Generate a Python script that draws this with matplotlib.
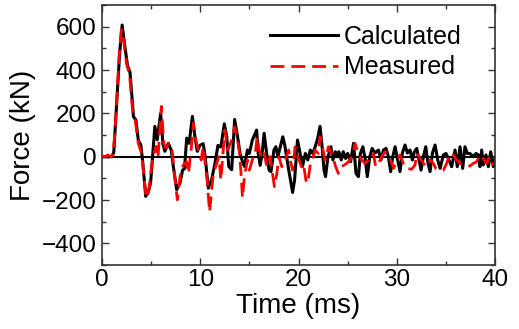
import matplotlib
matplotlib.use("Agg")
import matplotlib.pyplot as plt
from matplotlib.ticker import MultipleLocator

plt.rcParams['font.family'] = ['Liberation Sans', 'DejaVu Sans']

# Calculated (time ms, force kN)
calc_t = [0, 0.5, 1.0, 1.2, 1.5, 1.8, 2.05, 2.3, 2.6, 2.85, 3.1, 3.2, 3.45, 3.7, 3.95,
          4.15, 4.45, 4.7, 4.95, 5.2, 5.38, 5.62, 5.97, 6.2, 6.4, 6.75, 7.05, 7.26, 7.6,
          7.95, 8.2, 8.4, 8.62, 8.87, 9.2, 9.46, 9.7, 9.96, 10.3, 10.5, 10.82, 11.15, 11.5,
          11.8, 12.1, 12.45, 12.7, 12.9, 13.2, 13.5, 13.8, 14.05, 14.3, 14.5, 14.8, 15.0,
          15.3, 15.74, 15.9, 16.1, 16.3, 16.5, 16.8, 17.0, 17.2, 17.5, 17.7, 17.9, 18.15,
          18.4, 18.6, 19.0, 19.4, 19.6, 19.9, 20.1, 20.4, 20.7, 20.95, 21.2, 21.45, 21.7,
          21.95, 22.19, 22.4, 22.6, 22.75, 23.0, 23.3, 23.5, 23.75, 24.0, 24.1, 24.35, 24.55,
          24.8, 25.0, 25.3, 25.6, 25.85, 26.1, 26.3, 26.55, 26.8, 27.0, 27.25, 27.5, 27.79,
          28.13, 28.4, 28.64, 28.91, 29.15, 29.38, 29.59, 29.83, 30.1, 30.33, 30.57, 30.84,
          31.08, 31.35, 31.59, 31.79, 32.03, 32.27, 32.47, 32.71, 32.95, 33.15, 33.39, 33.63,
          33.9, 34.17, 34.41, 34.74, 35.01, 35.25, 35.59, 35.93, 36.16, 36.44, 36.71, 36.94,
          37.18, 37.45, 37.79, 38.06, 38.3, 38.47, 38.64, 38.81, 39.08, 39.32, 39.56, 39.83, 40.0]
calc_f = [0, 0, 0, 20, 250, 480, 608, 520, 420, 390, 250, 185, 170, 75, 55,
          -25, -183, -165, -120, 30, 140, 78, 200, 60, 25, 62, 30, -45, -152,
          -120, -62, -55, 86, 62, 186, 92, 25, 52, 60, 0, -145, -108, -30,
          52, 45, 152, 92, -45, -60, 172, 92, 15, -23, -45, 31, 15,
          77, 123, 15, -40, 15, 108, 0, -62, -69, 31, 46, 0, 46,
          92, 54, -60, -165, -108, 77, 31, -46, 15, -15, 31, 15, 46,
          85, 140, 46, -62, -92, 0, 46, -15, 23, 0, 23, -15, 23,
          -8, 15, -23, 62, -77, -92, 15, 46, -15, -92, 0, 38, 17,
          31, -15, 31, 38, 0, -69, 0, 46, -15, -69, 17, 54,
          17, 31, -15, 23, 38, -15, -62, 0, 46, -23, -69, 17,
          54, -15, -54, 8, 15, -8, -46, 31, -46, 46, -54, 46,
          15, 15, 0, 15, 8, -46, 31, -38, 8, -46, 23, -46, -15]

# Measured (time ms, force kN)
meas_t = [0, 0.3, 0.6, 0.9, 1.1, 1.3, 1.5, 1.75, 1.97, 2.2, 2.5, 2.8, 3.1, 3.4, 3.7, 4.0,
          4.2, 4.5, 4.75, 5.0, 5.2, 5.5, 5.7, 6.04, 6.3, 6.5, 6.8, 7.1, 7.4, 7.67, 7.95,
          8.25, 8.6, 8.8, 9.1, 9.3, 9.55, 9.9, 10.1, 10.3, 10.7, 10.95, 11.3, 11.6, 11.9,
          12.1, 12.5, 12.8, 13.2, 13.5, 13.75, 14.0, 14.15, 14.3, 14.5, 14.8, 15.0, 15.3,
          15.6, 15.8, 16.0, 16.2, 16.5, 16.7, 16.85, 17.1, 17.3, 17.55, 17.8, 18.0, 18.3,
          18.65, 19.0, 19.2, 19.4, 19.65, 19.95, 20.3, 20.5, 20.75, 20.93, 21.27, 21.51,
          21.68, 22.02, 22.19, 22.36, 22.53, 22.7, 22.87, 23.04, 23.2, 23.54, 23.78, 24.05,
          24.39, 24.66, 24.9, 25.24, 25.58, 25.75, 26.09, 26.43, 26.77, 27.11, 27.38, 27.62,
          27.85, 28.13, 28.47, 28.81, 29.15, 29.49, 29.66, 29.99, 30.33, 30.67, 31.01, 31.52,
          31.86, 32.03, 32.37, 32.71, 33.05, 33.39, 33.73, 33.97, 34.24, 34.74, 35.08, 35.42,
          35.76, 36.1, 36.44, 36.94, 37.45, 37.79, 38.13, 38.4, 38.64, 38.88, 39.15, 39.42,
          39.66, 39.83]
meas_f = [5, 0, 8, 0, 5, 100, 260, 470, 586, 540, 430, 380, 220, 165, 60, 20,
          -60, -190, -160, -60, 0, 48, -5, 232, 60, 40, 60, 45, -90, -199, -90,
          -40, -23, -77, 45, 155, 77, 15, -15, 46, -108, -255, -90, -40, 0,
          -108, 123, 31, 77, 138, 92, 15, -77, -190, -90, -15, -62, -15,
          15, 92, 31, 0, 23, -31, -46, 0, -62, -138, -77, 0, -46,
          -15, 31, -23, -62, 46, 0, -46, -31, -108, -123, -15, 0,
          31, 15, 92, 62, 23, -15, 8, 46, 31, -8, -46, -77,
          -46, -38, -31, -15, 23, 62, 15, -15, -31, -15, 8, 15,
          -46, -31, 0, 23, 8, -31, -54, -23, 8, -31, -54, -58,
          -38, 15, -8, -31, -46, -15, -31, -54, -62, -62, -31, 15,
          8, -15, -31, -38, -43, -31, -23, 0, 8, -15, -31, 0,
          -31, -38]

fig = plt.figure(figsize=(5.19, 3.29), dpi=100)
ax = fig.add_axes([0.1965, 0.1945, 0.7573, 0.790])

ax.axhline(0, color='black', lw=1.5, zorder=1)
ax.plot(calc_t, calc_f, color='black', lw=2.2, label='Calculated', zorder=2)
ax.plot(meas_t, meas_f, color='red', lw=2.0, ls=(0, (5, 2.5)), label='Measured', zorder=3)

ax.set_xlim(0, 40)
ax.set_ylim(-500, 700)
ax.xaxis.set_major_locator(MultipleLocator(10))
ax.xaxis.set_minor_locator(MultipleLocator(5))
ax.yaxis.set_major_locator(MultipleLocator(200))
ax.yaxis.set_minor_locator(MultipleLocator(100))
ax.tick_params(which='both', direction='in', top=True, right=True, width=1.0, color='#333333')
ax.tick_params(which='major', length=5, labelsize=17.5, pad=4)
ax.tick_params(axis='x', which='major', pad=3)
ax.tick_params(which='minor', length=3)
for s in ax.spines.values():
    s.set_linewidth(1.2)
    s.set_color('#333333')

ax.set_xlabel('Time (ms)', fontsize=20, labelpad=1)
ax.set_ylabel('Force (kN)', fontsize=20, labelpad=4)

ax.legend(loc='upper left', bbox_to_anchor=(0.4275, 0.923), frameon=False, fontsize=18,
          handlelength=2.7, handletextpad=0.25, borderpad=0, borderaxespad=0, labelspacing=0.25)

fig.savefig('out.png', dpi=100)
